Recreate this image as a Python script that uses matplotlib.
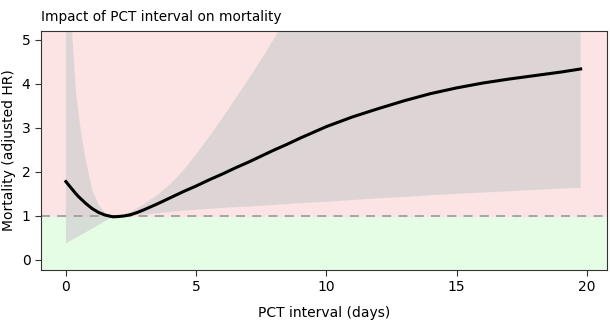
import numpy as np
import matplotlib
matplotlib.use("Agg")
import matplotlib.pyplot as plt

# PCT interval (days) and adjusted hazard ratio with its confidence band
interval_days = [0, 0.125, 0.25, 0.375, 0.5, 0.625, 0.75, 1.0, 1.25, 1.5, 1.8,
                 2.0, 2.25, 2.5, 2.75, 3.0, 3.5, 4.0, 4.5, 5.0, 5.5, 6.0, 6.5,
                 7.0, 7.5, 8.0, 8.5, 9, 10, 11, 12, 13, 14, 15, 16, 17, 18, 19, 19.76]
hr = [1.78, 1.69, 1.60, 1.51, 1.43, 1.36, 1.29, 1.17, 1.08, 1.02, 0.98,
      0.985, 1.00, 1.03, 1.08, 1.14, 1.27, 1.41, 1.55, 1.68, 1.82, 1.95, 2.09,
      2.22, 2.36, 2.50, 2.63, 2.77, 3.03, 3.25, 3.44, 3.62, 3.78, 3.91, 4.02,
      4.11, 4.19, 4.27, 4.34]
hr_lower = [0.38, 0.42, 0.46, 0.50, 0.54, 0.58, 0.62, 0.71, 0.79, 0.88, 0.98,
            0.98, 0.99, 1.00, 1.02, 1.03, 1.06, 1.09, 1.12, 1.14, 1.16, 1.18, 1.20,
            1.21, 1.23, 1.25, 1.27, 1.29, 1.32, 1.36, 1.40, 1.43, 1.47, 1.50, 1.53,
            1.56, 1.59, 1.62, 1.64]
hr_upper = [60.0, 10.0, 5.10, 3.90, 3.25, 2.75, 2.32, 1.62, 1.26, 1.07, 0.98,
            1.00, 1.04, 1.10, 1.18, 1.27, 1.47, 1.72, 2.03, 2.40, 2.80, 3.22, 3.66,
            4.10, 4.56, 5.04, 5.55, 6.10, 7.30, 8.60, 10.0, 11.4, 12.8, 14.2, 15.6,
            17.0, 18.4, 19.8, 21.0]

fig = plt.figure(figsize=(6.1, 3.35), dpi=100)
ax = fig.add_axes([0.067, 0.194, 0.928, 0.713])

ymin, ymax = -0.23, 5.2
ax.axhspan(ymin, 1, color="#e5fde5", zorder=0)
ax.axhspan(1, ymax, color="#fde4e4", zorder=0)

ax.fill_between(interval_days, hr_lower, hr_upper, color="#cfcfcf",
                alpha=0.68, linewidth=0, zorder=1)
ax.axhline(1, color="#a0a0a0", linestyle=(0, (5, 4)), linewidth=1.3, zorder=2)
ax.plot(interval_days, hr, color="black", linewidth=2.2, zorder=3)

ax.set_xlim(-0.96, 20.77)
ax.set_ylim(ymin, ymax)
ax.set_xticks([0, 5, 10, 15, 20])
ax.set_yticks([0, 1, 2, 3, 4, 5])
ax.tick_params(labelsize=10, length=4, color="#333333")
for sp in ax.spines.values():
    sp.set_color("#333333")

ax.set_xlabel("PCT interval (days)", fontsize=10, labelpad=8)
ax.set_ylabel("Mortality (adjusted HR)", fontsize=10, labelpad=4)
ax.set_title("Impact of PCT interval on mortality", loc="left", fontsize=9.8, pad=7)

fig.savefig("out.png", dpi=100)
